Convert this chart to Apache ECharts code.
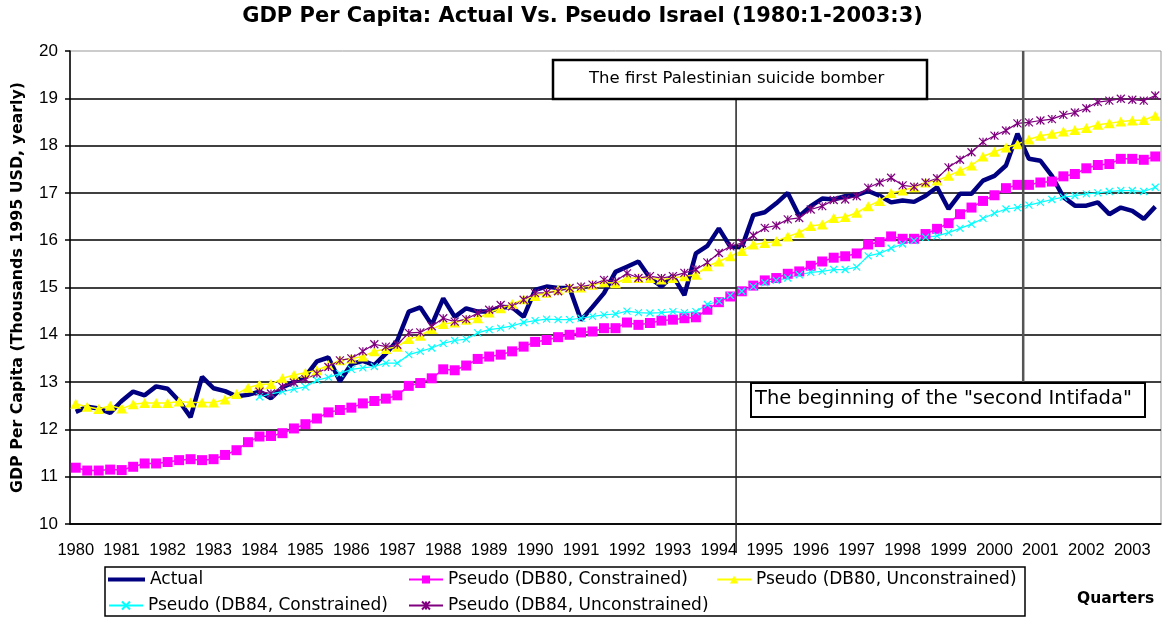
<!DOCTYPE html>
<html>
<head>
<meta charset="utf-8">
<title>GDP Per Capita: Actual Vs. Pseudo Israel</title>
<script src="https://cdn.jsdelivr.net/npm/echarts@6/dist/echarts.min.js"></script>
<style>
  html, body { margin: 0; padding: 0; background: #fff; }
  #chart { width: 1165px; height: 619px; }
</style>
</head>
<body>
<div id="chart"></div>
<script>
// quarters 1980:1 ... 2003:3
const years = [1980, 1981, 1982, 1983, 1984, 1985, 1986, 1987, 1988, 1989, 1990, 1991,
  1992, 1993, 1994, 1995, 1996, 1997, 1998, 1999, 2000, 2001, 2002, 2003];
const lastQuarter = 3;
const quarters = [];
years.forEach(y => {
  for (let q = 1; q <= 4; q++) {
    if (y === 2003 && q > lastQuarter) break;
    quarters.push(y + ':' + q);
  }
});

// GDP per capita, thousands 1995 USD
const actual = [
  12.37, 12.48, 12.44, 12.35, 12.60, 12.80, 12.72, 12.91, 12.86, 12.60, 12.26, 13.11,
  12.87, 12.81, 12.70, 12.73, 12.80, 12.66, 12.89, 13.00, 13.12, 13.44, 13.52, 13.02,
  13.38, 13.45, 13.36, 13.60, 13.88, 14.49, 14.58, 14.21, 14.77, 14.38, 14.56, 14.49,
  14.49, 14.59, 14.58, 14.38, 14.95, 15.02, 14.99, 14.99, 14.31, 14.59, 14.88, 15.33,
  15.44, 15.55, 15.20, 15.02, 15.25, 14.84, 15.72, 15.88, 16.25, 15.86, 15.85, 16.53,
  16.59, 16.78, 17.00, 16.51, 16.72, 16.88, 16.86, 16.93, 16.95, 17.04, 16.94, 16.80,
  16.84, 16.81, 16.94, 17.12, 16.66, 16.98, 16.98, 17.26, 17.36, 17.58, 18.25, 17.72,
  17.68, 17.36, 16.91, 16.73, 16.73, 16.80, 16.55, 16.69, 16.62, 16.45, 16.71
];
const db80Constrained = [
  11.19, 11.13, 11.13, 11.15, 11.14, 11.21, 11.28, 11.28, 11.31, 11.35, 11.37, 11.35,
  11.37, 11.46, 11.56, 11.73, 11.85, 11.86, 11.92, 12.02, 12.11, 12.23, 12.36, 12.41,
  12.46, 12.55, 12.60, 12.65, 12.72, 12.92, 12.98, 13.08, 13.27, 13.25, 13.35, 13.49,
  13.54, 13.58, 13.65, 13.75, 13.85, 13.89, 13.95, 14.00, 14.05, 14.07, 14.14, 14.14,
  14.26, 14.21, 14.25, 14.30, 14.32, 14.35, 14.37, 14.53, 14.69, 14.81, 14.92, 15.04,
  15.15, 15.20, 15.29, 15.34, 15.46, 15.55, 15.63, 15.66, 15.72, 15.91, 15.96, 16.08,
  16.03, 16.03, 16.13, 16.24, 16.36, 16.55, 16.69, 16.83, 16.95, 17.10, 17.17, 17.17,
  17.22, 17.24, 17.35, 17.40, 17.52, 17.59, 17.61, 17.72, 17.72, 17.70, 17.77
];
const db80Unconstrained = [
  12.54, 12.48, 12.43, 12.50, 12.44, 12.53, 12.56, 12.56, 12.56, 12.59, 12.57, 12.57,
  12.57, 12.63, 12.75, 12.88, 12.95, 12.96, 13.08, 13.15, 13.20, 13.25, 13.36, 13.46,
  13.50, 13.54, 13.65, 13.70, 13.75, 13.91, 13.98, 14.12, 14.23, 14.26, 14.32, 14.35,
  14.47, 14.56, 14.65, 14.75, 14.82, 14.89, 14.95, 15.00, 15.00, 15.06, 15.11, 15.09,
  15.20, 15.20, 15.20, 15.17, 15.20, 15.24, 15.27, 15.45, 15.55, 15.66, 15.77, 15.91,
  15.94, 15.98, 16.08, 16.16, 16.30, 16.33, 16.47, 16.49, 16.58, 16.72, 16.83, 17.00,
  17.05, 17.12, 17.22, 17.26, 17.36, 17.47, 17.58, 17.77, 17.87, 17.96, 18.03, 18.13,
  18.21, 18.25, 18.30, 18.33, 18.37, 18.44, 18.47, 18.51, 18.53, 18.54, 18.63
];
// the DB84 series start at 1984:1
const db84Start = '1984:1';
const db84Constrained = [
  12.69, 12.75, 12.80, 12.85, 12.90, 13.04, 13.10, 13.18, 13.27, 13.30, 13.33, 13.40,
  13.40, 13.58, 13.65, 13.72, 13.82, 13.88, 13.91, 14.04, 14.11, 14.14, 14.19, 14.26,
  14.30, 14.33, 14.32, 14.32, 14.35, 14.39, 14.42, 14.44, 14.50, 14.47, 14.46, 14.47,
  14.49, 14.47, 14.49, 14.64, 14.71, 14.83, 14.92, 15.02, 15.10, 15.15, 15.20, 15.27,
  15.32, 15.34, 15.38, 15.38, 15.43, 15.67, 15.72, 15.83, 15.92, 15.99, 16.06, 16.09,
  16.16, 16.25, 16.34, 16.46, 16.57, 16.66, 16.69, 16.74, 16.80, 16.86, 16.91, 16.94,
  16.98, 17.00, 17.03, 17.05, 17.05, 17.03, 17.12
];
const db84Unconstrained = [
  12.80, 12.76, 12.90, 12.99, 13.06, 13.18, 13.32, 13.46, 13.50, 13.65, 13.80, 13.75,
  13.79, 14.04, 14.05, 14.18, 14.35, 14.28, 14.33, 14.46, 14.53, 14.63, 14.60, 14.74,
  14.88, 14.89, 14.92, 14.99, 15.02, 15.06, 15.16, 15.13, 15.30, 15.20, 15.24, 15.20,
  15.24, 15.31, 15.38, 15.53, 15.73, 15.87, 15.94, 16.10, 16.26, 16.31, 16.44, 16.47,
  16.65, 16.72, 16.85, 16.86, 16.93, 17.11, 17.22, 17.32, 17.16, 17.13, 17.22, 17.31,
  17.54, 17.70, 17.86, 18.08, 18.21, 18.32, 18.47, 18.49, 18.53, 18.56, 18.65, 18.70,
  18.79, 18.92, 18.95, 18.99, 18.97, 18.95, 19.06
];

// events marked with a vertical line at the start of the quarter
const bomberQuarter = '1994:3';
const intifadaQuarter = '2000:4';

const names = [
  'Actual',
  'Pseudo (DB80, Constrained)',
  'Pseudo (DB80, Unconstrained)',
  'Pseudo (DB84, Constrained)',
  'Pseudo (DB84, Unconstrained)'
];

const FONT = '"Liberation Sans", Arial, sans-serif';
const WIDE = '"DejaVu Sans", Verdana, sans-serif';
const padded = arr => new Array(quarters.indexOf(db84Start)).fill(null).concat(arr);

// marker shapes of the original chart
const xMark = 'path://M0,0L10,10M10,0L0,10';
const starMark = 'path://M0,0L10,10M10,0L0,10M5,0L5,10';

function legendItem(name, left, top, extra) {
  return Object.assign({
    data: [name],
    left: left,
    top: top,
    orient: 'horizontal',
    itemWidth: 34,
    itemHeight: 10,
    itemGap: 0,
    padding: 0,
    selectedMode: false,
    textStyle: { fontFamily: WIDE, fontSize: 17, color: '#000' }
  }, extra || {});
}

const chart = echarts.init(document.getElementById('chart'));

const option = {
  backgroundColor: '#fff',
  animation: false,
  title: [
    {
      text: 'GDP Per Capita: Actual Vs. Pseudo Israel (1980:1-2003:3)',
      left: 'center',
      top: 6,
      padding: 0,
      textStyle: { fontFamily: WIDE, fontSize: 21, fontWeight: 'bold', color: '#000' }
    },
    {
      text: 'Quarters',
      left: 1077,
      top: 591,
      padding: 0,
      textStyle: { fontFamily: WIDE, fontSize: 15.5, fontWeight: 'bold', color: '#000' }
    }
  ],
  legend: [
    legendItem(names[0], 108, 571, { icon: 'rect', itemWidth: 37, itemHeight: 4 }),
    legendItem(names[1], 408, 571),
    legendItem(names[2], 716, 571),
    legendItem(names[3], 108, 597),
    legendItem(names[4], 408, 597)
  ],
  grid: {
    left: 70,
    right: 4,
    top: 51,
    bottom: 95,
    show: true,
    borderColor: '#999',
    borderWidth: 1
  },
  xAxis: {
    type: 'category',
    data: quarters,
    boundaryGap: true,
    axisLine: { lineStyle: { color: '#000', width: 1.5 } },
    axisTick: { interval: 3, length: 5, lineStyle: { color: '#000', width: 1.5 } },
    axisLabel: {
      interval: 3,
      margin: 18,
      fontFamily: FONT,
      fontSize: 16.5,
      color: '#000',
      formatter: v => v.split(':')[0]
    },
    splitLine: { show: false }
  },
  yAxis: {
    type: 'value',
    min: 10,
    max: 20,
    interval: 1,
    name: 'GDP Per Capita (Thousands 1995 USD, yearly)',
    nameLocation: 'middle',
    nameGap: 44,
    nameTextStyle: { fontFamily: WIDE, fontSize: 15.8, fontWeight: 'bold', color: '#000' },
    axisLine: { show: true, lineStyle: { color: '#000', width: 1.5 } },
    axisTick: { show: true, length: 5, lineStyle: { color: '#000', width: 1.5 } },
    axisLabel: { fontFamily: FONT, fontSize: 17, color: '#000', margin: 12 },
    splitLine: { show: true, showMaxLine: false, lineStyle: { color: '#000', width: 1.5 } }
  },
  series: [
    {
      name: names[0],
      type: 'line',
      data: actual,
      color: '#000080',
      symbol: 'none',
      lineStyle: { width: 4.5 }
    },
    {
      name: names[1],
      type: 'line',
      data: db80Constrained,
      color: '#ff00ff',
      symbol: 'rect',
      symbolSize: 10,
      showAllSymbol: true,
      lineStyle: { width: 1.5 }
    },
    {
      name: names[2],
      type: 'line',
      data: db80Unconstrained,
      color: '#ffff00',
      symbol: 'triangle',
      symbolSize: [11, 10],
      showAllSymbol: true,
      lineStyle: { width: 1.5 }
    },
    {
      name: names[3],
      type: 'line',
      data: padded(db84Constrained),
      color: '#00ffff',
      symbol: xMark,
      symbolSize: 7,
      showAllSymbol: true,
      itemStyle: { borderColor: '#00ffff', borderWidth: 1.2 },
      lineStyle: { width: 1.2 }
    },
    {
      name: names[4],
      type: 'line',
      data: padded(db84Unconstrained),
      color: '#800080',
      symbol: starMark,
      symbolSize: 8,
      showAllSymbol: true,
      itemStyle: { borderColor: '#800080', borderWidth: 1.2 },
      lineStyle: { width: 1.2 }
    }
  ]
};

chart.setOption(option);

// x of the boundary just before a quarter, from the category axis
function quarterStartX(q) {
  const i = quarters.indexOf(q);
  const a = chart.convertToPixel({ xAxisIndex: 0 }, quarters[i - 1]);
  const b = chart.convertToPixel({ xAxisIndex: 0 }, quarters[i]);
  return (a + b) / 2;
}

const topY = chart.convertToPixel({ yAxisIndex: 0 }, 20);
const x1 = quarterStartX(bomberQuarter);
const x2 = quarterStartX(intifadaQuarter);

chart.setOption({
  graphic: [
    // event lines
    { type: 'line', shape: { x1: x1, y1: 99, x2: x1, y2: 553 }, style: { stroke: '#222', lineWidth: 1.5 }, z: 50 },
    { type: 'line', shape: { x1: x2, y1: topY, x2: x2, y2: 383 }, style: { stroke: '#555', lineWidth: 2.5 }, z: 50 },
    // annotation boxes
    { type: 'rect', shape: { x: 553, y: 60, width: 374, height: 39 }, style: { fill: '#fff', stroke: '#000', lineWidth: 2.5 }, z: 60 },
    { type: 'text', left: 589, top: 70, style: { text: 'The first Palestinian suicide bomber', fontFamily: WIDE, fontSize: 16.5, fill: '#000' }, z: 61 },
    { type: 'rect', shape: { x: 751, y: 383, width: 394, height: 34 }, style: { fill: '#fff', stroke: '#000', lineWidth: 2 }, z: 60 },
    { type: 'text', left: 755, top: 389, style: { text: 'The beginning of the "second Intifada"', fontFamily: WIDE, fontSize: 19.5, fill: '#000' }, z: 61 },
    // legend frame
    { type: 'rect', shape: { x: 105, y: 567, width: 920, height: 49 }, style: { fill: 'none', stroke: '#000', lineWidth: 1.5 }, z: 1 }
  ]
});
</script>
</body>
</html>
